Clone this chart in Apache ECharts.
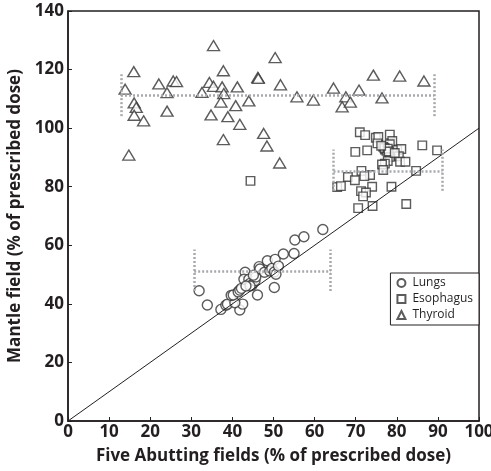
<!DOCTYPE html>
<html>
<head>
<meta charset="utf-8">
<script src="https://cdn.jsdelivr.net/npm/echarts@6/dist/echarts.min.js"></script>
<style>
html,body{margin:0;padding:0;background:#fff;}
#box{width:491px;height:471px;}
</style>
</head>
<body>
<div id="box"></div>
<script>
// 点的数据 [x, y]
var lungs = [
	[31.9,44.5],[33.9,39.6],[37.2,38.1],[38.4,39.5],[38.8,39.9],[41.8,37.9],[42.5,39.9],[40.6,40.4],
	[39.7,42.9],[40.2,43.0],[41.4,44.1],[41.8,44.7],[42.2,45.3],[43.1,50.8],[42.8,48.4],[44.0,48.4],
	[44.3,47.0],[44.8,46.4],[45.5,47.9],[45.7,49.2],[46.5,52.7],[46.7,51.9],[46.1,43.0],[47.8,50.8],
	[48.5,54.7],[49.1,51.2],[49.6,52.1],[50.4,55.2],[50.2,50.9],[50.6,50.1],[51.2,52.9],[50.2,45.6],
	[52.4,57.0],[55.0,57.2],[55.2,61.8],[57.4,62.9],[62.0,65.4],[44.3,46.1],[43.3,46.1],[45.1,49.8]
];
var esophagus = [
	[44.4,82.0],[71.0,98.6],[72.3,97.6],[69.9,91.9],[72.8,92.4],[74.9,96.7],[75.5,97.0],[75.3,94.8],
	[78.3,97.8],[78.9,95.6],[78.3,94.5],[76.7,93.6],[77.1,92.7],[77.5,92.3],[78.6,91.9],[80.1,92.5],
	[81.1,92.9],[86.2,94.1],[89.8,92.4],[80.5,90.4],[80.8,88.5],[82.1,88.5],[78.3,90.2],[77.8,88.8],
	[77.1,87.9],[76.4,87.6],[76.7,85.7],[71.4,85.4],[73.5,84.0],[72.1,83.6],[68.1,83.3],[69.8,82.2],
	[65.5,79.9],[66.4,80.2],[74.0,80.0],[78.7,80.0],[71.3,78.5],[72.5,78.0],[71.8,76.7],[84.7,85.4],
	[70.6,72.7],[74.1,73.4],[82.3,74.1],[77.0,93.2],[77.8,93.0],[78.0,92.0],[76.2,94.0],[79.5,91.5]
];
var thyroid = [
	[13.9,113.3],[16.0,119.3],[14.8,90.8],[16.1,108.6],[16.6,107.1],[16.1,104.4],[18.4,102.5],[22.1,115.1],
	[24.1,112.1],[24.1,105.8],[25.6,116.1],[26.4,115.9],[32.6,112.2],[34.4,115.6],[35.4,114.3],[35.4,128.2],
	[34.8,104.5],[37.8,119.6],[37.5,114.1],[37.9,111.8],[37.2,108.9],[37.8,96.1],[38.9,103.9],[41.2,114.1],
	[40.8,107.7],[41.8,101.3],[44.0,109.3],[46.2,117.3],[46.3,117.0],[47.6,98.2],[48.4,93.9],[50.4,124.1],
	[51.7,114.8],[51.5,88.1],[55.7,110.7],[59.7,109.6],[64.6,113.7],[67.6,110.7],[66.7,107.3],[68.7,108.9],
	[70.8,113.0],[74.3,118.1],[76.4,110.3],[80.7,117.8],[86.6,116.1]
];
// 范围: [左x, 右x, 下, 中, 上]
var lungsRange = [30.7, 63.9, 44.4, 51.3, 58.6];
var esophagusRange = [64.6, 91.1, 78.6, 85.4, 92.7];
var thyroidRange = [12.9, 89.1, 104.1, 111.2, 118.4];
var identityLine = [[0,0],[100,100]];

var txt = '#231f20';
var fnt = 'Open Sans';
var markStyle = {color:'#fff',borderColor:'#333',borderWidth:1.4};

function bracket(r){
	return [
		[{coord:[r[0],r[2]]},{coord:[r[0],r[4]]}],
		[{coord:[r[0],r[3]]},{coord:[r[1],r[3]]}],
		[{coord:[r[1],r[2]]},{coord:[r[1],r[4]]}]
	];
}

var mychart = echarts.init(document.getElementById('box'));
var option = {
	animation:false,
	grid:{left:68,right:12,top:11,bottom:50,outerBoundsMode:'none',show:true,borderColor:txt,borderWidth:1.5,backgroundColor:'transparent'},
	legend:{
		data:['Lungs','Esophagus','Thyroid'],
		orient:'vertical',
		right:12,top:273,
		backgroundColor:'#fff',
		borderColor:txt,borderWidth:1,
		padding:[4,6,4,6],
		itemGap:4,
		itemWidth:8,itemHeight:8,
		textStyle:{fontFamily:fnt,fontSize:12,color:txt,padding:[0,0,0,2]}
	},
	xAxis:{
		type:'value',min:0,max:100,interval:10,
		name:'Five Abutting fields (% of prescribed dose)',
		nameLocation:'middle',nameGap:27,
		nameTextStyle:{fontFamily:fnt,fontWeight:'bold',fontSize:17,color:txt},
		axisLine:{lineStyle:{color:txt,width:1.5}},
		axisTick:{inside:true,length:4,lineStyle:{color:txt}},
		axisLabel:{fontFamily:fnt,fontWeight:'bold',fontSize:17,color:txt,margin:3},
		splitLine:{show:false}
	},
	yAxis:{
		type:'value',min:0,max:140,interval:20,
		name:'Mantle field (% of prescribed dose)',
		nameLocation:'middle',nameGap:32,
		nameTextStyle:{fontFamily:fnt,fontWeight:'bold',fontSize:17,color:txt},
		axisLine:{lineStyle:{color:txt,width:1.5}},
		axisTick:{inside:true,length:4,lineStyle:{color:txt}},
		axisLabel:{fontFamily:fnt,fontWeight:'bold',fontSize:17,color:txt,margin:4},
		splitLine:{show:false}
	},
	series:[
		{
			name:'ranges',type:'line',data:[],silent:true,
			markLine:{
				silent:true,symbol:'none',label:{show:false},
				lineStyle:{color:'#a7a9ac',type:[2,2],width:2.5},
				data:bracket(lungsRange).concat(bracket(esophagusRange),bracket(thyroidRange))
			}
		},
		{
			name:'identity',type:'line',data:identityLine,symbol:'none',silent:true,
			lineStyle:{color:txt,width:1}
		},
		{name:'Lungs',type:'scatter',symbol:'circle',symbolSize:10,data:lungs,itemStyle:markStyle},
		{name:'Esophagus',type:'scatter',symbol:'rect',symbolSize:8.5,data:esophagus,itemStyle:markStyle},
		{name:'Thyroid',type:'scatter',symbol:'triangle',symbolSize:[12,10],data:thyroid,itemStyle:markStyle}
	]
};
mychart.setOption(option);
</script>
</body>
</html>
